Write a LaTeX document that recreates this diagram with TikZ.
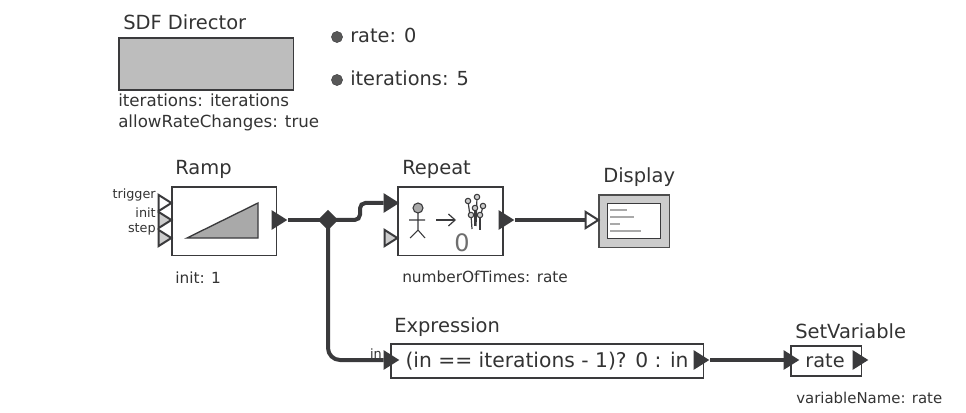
\documentclass[tikz,border=0pt]{standalone}
\usepackage{fontspec}
\setmainfont{DejaVu Sans}
\usetikzlibrary{arrows.meta,positioning,shapes.geometric}
\definecolor{ptInk}{HTML}{3A3A3C}
\definecolor{ptText}{HTML}{333333}
\definecolor{ptMuted}{HTML}{6E6E6E}
\definecolor{ptDirector}{HTML}{BDBDBD}
\definecolor{ptPortFill}{HTML}{CCCCCC}
\definecolor{ptIcon}{HTML}{A9A9A9}
\tikzset{
  pt/title/.style={font=\fontsize{14.6}{16}\selectfont, text=ptText, anchor=base west, inner sep=0pt},
  pt/param/.style={font=\fontsize{11.5}{13}\selectfont, text=ptText, anchor=base west, inner sep=0pt},
  pt/dirparam/.style={pt/param, font=\fontsize{12.5}{14}\selectfont},
  pt/small/.style={font=\fontsize{9.6}{11}\selectfont, text=ptText, anchor=base east, inner sep=0pt},
  pt/attr/.style={font=\fontsize{14.5}{16}\selectfont, text=ptText, anchor=base west, inner sep=0pt},
  pt/box/.style={draw=ptInk, line width=1.3pt, fill=white, inner sep=0pt, anchor=north west},
  pt/port/.style={shape=isosceles triangle, isosceles triangle stretches,
    minimum width=12pt, minimum height=9.5pt, anchor=apex,
    inner sep=0pt, draw=ptInk, line width=1.5pt},
  pt/in/.style={pt/port, fill=ptPortFill},
  pt/open/.style={pt/port, fill=white},
  pt/solid/.style={pt/port, fill=ptInk},
  pt/wire/.style={draw=ptInk, line width=3pt},
  pt/dot/.style={circle, fill=ptMuted!80!black, draw=ptInk, line width=.3pt, minimum size=8.4pt, inner sep=0pt},
}
\begin{document}
\begin{tikzpicture}[x=0.75pt,y=-0.75pt]
\useasboundingbox (0,0) rectangle (966,413);

% director and parameters
\node[pt/box, fill=ptDirector, minimum width=131pt, minimum height=39pt] (director) at (118,37) {};
\node[pt/title] (directorTitle) at (123,30) {SDF Director};
\node[pt/dirparam] (directorIter) at (118,107) {iterations: iterations};
\node[pt/dirparam] (directorRate) at (118,128) {allowRateChanges: true};
\node[pt/dot] (rateDot) at (337,37) {};
\node[pt/attr] (rateText) at (350,43) {rate: 0};
\node[pt/dot] (iterDot) at (337,80) {};
\node[pt/attr] (iterText) at (350,86) {iterations: 5};

% Ramp
\node[pt/box, minimum width=78.5pt, minimum height=51.5pt] (ramp) at (171,186) {};
\node[pt/title] (rampTitle) at (175,175) {Ramp};
\node[pt/param] (rampInit) at (175,283) {init: 1};
\draw[draw=ptInk, fill=ptIcon, line width=1pt] (187,238) -- (258,203) -- (258,238) -- cycle;
\node[pt/open] (rampTrigger) at (174,203) {};
\node[pt/in] (rampStart) at (174,220) {};
\node[pt/in] (rampStep) at (174,238) {};
\node[pt/small] (triggerText) at (156,199) {trigger};
\node[pt/small] (initText) at (156,218) {init};
\node[pt/small] (stepText) at (156,233) {step};
\node[pt/solid] (rampOut) at (288,220) {};

% Repeat
\node[pt/box, minimum width=79pt, minimum height=51.5pt] (repeat) at (397,186) {};
\node[pt/title] (repeatTitle) at (402,175) {Repeat};
\node[pt/param] (repeatTimes) at (402,282) {numberOfTimes: rate};
\node[pt/solid] (repeatIn) at (400,203) {};
\node[pt/in] (repeatCount) at (400,238) {};
\node[pt/solid] (repeatOut) at (515,220) {};
\draw[ptInk, line width=.8pt] (418,213) -- (418,230) (409,220) -- (425,220) (410,238) -- (418,230) -- (425,238);
\draw[ptInk, fill=ptIcon, line width=.8pt] (418,208) circle (5);
\draw[ptInk, line width=.9pt, -{Straight Barb[length=5pt,width=9pt]}] (436,220) -- (456,220);
\foreach \tx/\ty/\ex/\ey in {468/201/470/216, 477/197/476/226, 475/208/475/226, 483/206/480/218, 471/215/472/229, 480/215/480/230} {
  \draw[ptInk, line width=.9pt] (\tx,\ty) -- (\ex,\ey);
}
\foreach \tx/\ty in {468/201, 477/197, 475/208, 483/206, 471/215, 480/215} {
  \draw[ptInk, fill=ptPortFill, line width=.8pt] (\tx,\ty) circle (2.7);
}
\node[font=\fontsize{18}{21}\selectfont, text=ptMuted, inner sep=0pt] (repeatZero) at (462,243) {0};

% Display
\node[pt/box, draw=ptMuted!70!black, fill=ptPortFill, minimum width=53pt, minimum height=39.5pt] (display) at (598,194) {};
\node[pt/box, fill=white, line width=1pt, minimum width=39.5pt, minimum height=26pt] (screen) at (607,203) {};
\node[pt/title] (displayTitle) at (603,183) {Display};
\node[pt/open] (displayIn) at (601,220) {};
\foreach \ly/\lx in {210/627, 217/634, 224/620, 231/641} {
  \draw[ptIcon, line width=.8pt] (610,\ly) -- (\lx,\ly);
}

% Expression
\node[pt/box, minimum width=234.5pt, minimum height=25.5pt] (expr) at (390,343) {};
\node[pt/title] (exprTitle) at (394,332) {Expression};
\node[pt/attr, font=\fontsize{15.2}{17}\selectfont, anchor=base] (exprText) at (547,367) {(in == iterations - 1)? 0 : in};
\node[pt/small] (exprInText) at (382,358) {in};
\node[pt/solid] (exprIn) at (400,360) {};
\node[pt/solid] (exprOut) at (710,360) {};

% SetVariable
\node[pt/box, minimum width=53pt, minimum height=22.5pt] (setvar) at (790,345) {};
\node[pt/title] (setvarTitle) at (795,338) {SetVariable};
\node[pt/attr, anchor=base] (setvarText) at (825,367) {rate};
\node[pt/solid] (setvarIn) at (800,360) {};
\node[pt/solid] (setvarOut) at (869,360) {};
\node[pt/param, font=\fontsize{11.2}{13}\selectfont] (setvarName) at (796,403) {variableName: rate};

% connections
\node[diamond, fill=ptInk, minimum size=15.5pt, inner sep=0pt] (junction) at (328,220) {};
\coordinate (bendUp) at (360,220);
\draw[pt/wire] (rampOut.apex) -- (junction.center);
\draw[pt/wire, rounded corners=4pt] (junction.center) -- (bendUp) -- (bendUp |- repeatIn) -- (repeatIn.west);
\draw[pt/wire, rounded corners=9pt] (junction.center) |- (exprIn.west);
\draw[pt/wire] (repeatOut.apex) -- (displayIn.west);
\draw[pt/wire] (exprOut.apex) -- (setvarIn.west);
\end{tikzpicture}
\end{document}
